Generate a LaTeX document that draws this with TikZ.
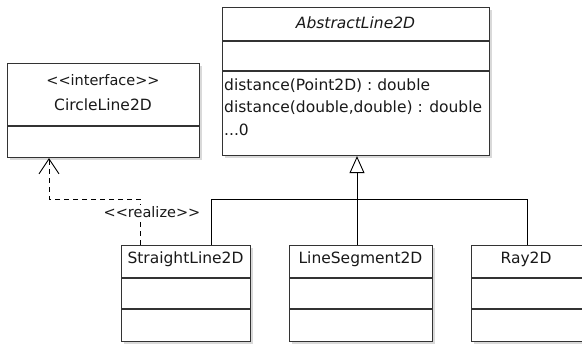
\documentclass[tikz,border=0pt]{standalone}
\usepackage{fontspec}
\newfontfamily\uifont{DejaVu Sans}
\usetikzlibrary{arrows.meta,shadows,positioning}
\begin{document}
\begin{tikzpicture}[x=1pt,y=-1pt,
  classbox/.style={draw=black!80, line width=1.1pt, fill=white, rectangle, inner sep=0pt,
    drop shadow={shadow xshift=2pt, shadow yshift=-2pt, opacity=0.25, fill=black!60}},
  divider/.style={draw=black!80, line width=1.1pt},
  txt/.style={inner sep=0pt, font=\uifont\fontsize{15.5}{18}\selectfont, text=black!90},
  conn/.style={draw=black, line width=0.9pt},
  realiz/.style={draw=black, line width=0.9pt, dash pattern=on 5pt off 4pt}]
\useasboundingbox (0,0) rectangle (582,344);
\clip (0,0) rectangle (582,344);
% CircleLine2D
\node[classbox, minimum width=192pt, minimum height=94pt, anchor=north west] (iface) at (7,63) {};
\draw[divider] (7,126) -- (199,126);
\node[txt, font=\uifont\fontsize{14.5}{17}\selectfont] (ifst) at (103,80) {<<interface>>};
\node[txt] (ifname) at (103,105) {CircleLine2D};
% AbstractLine2D
\node[classbox, minimum width=267pt, minimum height=148pt, anchor=north west] (abs) at (222,7) {};
\draw[divider] (222,41) -- (489,41);
\draw[divider] (222,71) -- (489,71);
\node[txt, font=\uifont\fontsize{15.5}{18}\selectfont\itshape] (absname) at (355.5,23) {AbstractLine2D};
\node[txt, anchor=west] (m1) at (224,86) {distance(Point2D) : double};
\node[txt, anchor=west] (m2) at (224,108) {distance(double,double) : double};
\node[txt, anchor=west] (m3) at (224,130) {...0};
% StraightLine2D
\node[classbox, minimum width=129pt, minimum height=96pt, anchor=north west] (sl) at (121,245) {};
\draw[divider] (121,278) -- (250,278);
\draw[divider] (121,309) -- (250,309);
\node[txt] (slname) at (185.5,259) {StraightLine2D};
% LineSegment2D
\node[classbox, minimum width=143pt, minimum height=96pt, anchor=north west] (ls) at (289,245) {};
\draw[divider] (289,278) -- (432,278);
\draw[divider] (289,309) -- (432,309);
\node[txt] (lsname) at (360.5,259) {LineSegment2D};
% Ray2D
\node[classbox, minimum width=115pt, minimum height=96pt, anchor=north west] (ray) at (471,245) {};
\draw[divider] (471,278) -- (586,278);
\draw[divider] (471,309) -- (586,309);
\node[txt] (rayname) at (526,259) {Ray2D};
% generalization
\coordinate (j) at (357,199);
\coordinate (jl) at (211,199);
\coordinate (jr) at (527,199);
\draw[conn, -{Triangle[open, length=17pt, width=15pt, line width=0.9pt]}] (j) -- (j |- abs.south);
\draw[conn] (j) -- (j |- ls.north);
\draw[conn] (jl |- sl.north) -- (jl) -- (jr) -- (jr |- ray.north);
% realization
\coordinate (rb) at (140,199);
\coordinate (ra) at (49,199);
\draw[realiz, -{Straight Barb[length=15pt, width=20pt, line width=0.9pt]}] (rb |- sl.north) -- (rb) -- (ra) -- (ra |- iface.south);
\node[txt, font=\uifont\fontsize{14.5}{17}\selectfont, fill=white, inner sep=1pt] (rlab) at (152,212) {<<realize>>};
\end{tikzpicture}
\end{document}
